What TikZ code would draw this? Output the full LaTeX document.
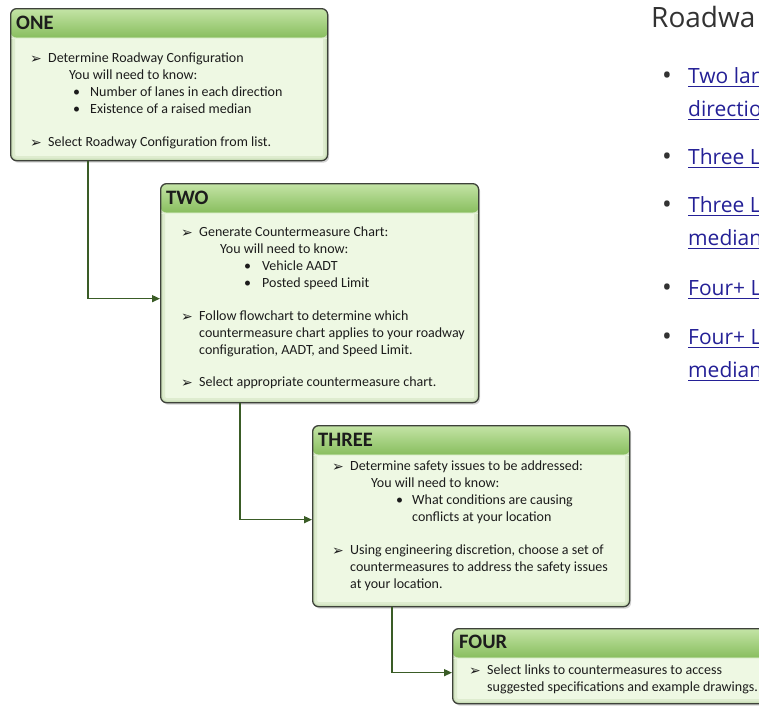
\documentclass[tikz,border=0pt]{standalone}
\usepackage{fontspec}
\usepackage{xcolor}
\setmainfont{Carlito}
\newfontfamily\symfont{DejaVu Sans}
\newfontfamily\webfont{Open Sans}
\usetikzlibrary{arrows.meta,shadows}

\definecolor{headtop}{RGB}{196,228,166}
\definecolor{headbot}{RGB}{136,190,94}
\definecolor{bodyfill}{RGB}{238,248,227}
\definecolor{bodyglow}{RGB}{150,185,120}
\definecolor{boxedge}{RGB}{62,66,58}
\definecolor{textdark}{RGB}{28,28,28}
\definecolor{linkgreen}{RGB}{58,92,38}
\definecolor{linkblue}{RGB}{36,32,150}
\definecolor{webgray}{RGB}{50,50,50}

\newcommand{\arritem}[1][18pt]{\makebox[#1][l]{\raisebox{-0.5pt}{\symfont\fontsize{14}{14}\selectfont ➢}}}
\newcommand{\bulline}[2]{\hspace*{#1}\makebox[#2][l]{•}}
\newcommand{\webbul}{\makebox[26pt][l]{\textcolor{webgray}{\fontsize{26}{26}\selectfont\raisebox{-1pt}{•}}}}
\newcommand{\weblink}[1]{\setbox0\hbox{#1}\rlap{\rule[-4pt]{\wd0}{1pt}}\box0}

\begin{document}
\begin{tikzpicture}[x=1pt, y=-1pt,
  stepbox/.style={draw=boxedge, line width=1.3pt, rounded corners=6pt,
    fill=bodyfill, anchor=north west, minimum width=317pt, inner sep=0pt,
    drop shadow={shadow xshift=1.5pt, shadow yshift=-2pt, opacity=.35},
    path picture={
      \draw[bodyglow, line width=9pt, opacity=.18, rounded corners=6pt]
        (path picture bounding box.north west) rectangle
        (path picture bounding box.south east);
      \draw[bodyglow, line width=4pt, opacity=.25, rounded corners=6pt]
        (path picture bounding box.north west) rectangle
        (path picture bounding box.south east);
      \shade[top color=headtop, bottom color=headbot]
        (path picture bounding box.north west) rectangle
        ([yshift=-29pt]path picture bounding box.north east);
      \draw[white!55!headtop, line width=1.2pt]
        ([yshift=-29.6pt]path picture bounding box.north west) --
        ([yshift=-29.6pt]path picture bounding box.north east);
    }},
  steptitle/.style={anchor=west, inner sep=0pt,
    font=\fontsize{20.5}{20.5}\selectfont\bfseries, text=textdark},
  steptext/.style={anchor=north west, inner sep=0pt, align=left,
    font=\fontsize{14}{16.8}\selectfont, text=textdark},
  link/.style={draw=linkgreen, line width=1.4pt,
    -{Triangle[length=8pt,width=7pt]}},
  webitem/.style={anchor=base west, inner sep=0pt,
    font=\webfont\fontsize{21}{21}\selectfont, text=linkblue}]

  \useasboundingbox (0,0) rectangle (759,705);
  \clip (0,0) rectangle (759,705);

  % step boxes
  \node[stepbox, minimum height=152pt] (one) at (10,8) {};
  \node[stepbox, minimum height=219pt, minimum width=318pt] (two) at (160,183) {};
  \node[stepbox, minimum height=181pt] (three) at (312,425) {};
  \node[stepbox, minimum height=75pt, minimum width=330pt] (four) at (452,628) {};

  % titles
  \node[steptitle] (one-title) at ([xshift=6pt,yshift=-14.5pt]one.north west) {ONE};
  \node[steptitle] (two-title) at ([xshift=6pt,yshift=-14.5pt]two.north west) {TWO};
  \node[steptitle] (three-title) at ([xshift=6pt,yshift=-14.5pt]three.north west) {THREE};
  \node[steptitle] (four-title) at ([xshift=7pt,yshift=-14pt]four.north west) {FOUR};

  % step texts
  \node[steptext] (one-text) at ([xshift=20pt,yshift=-45pt]one.north west) {%
    \arritem Determine Roadway Configuration\\
    \hspace*{39pt}You will need to know:\\
    \bulline{43pt}{17pt}Number of lanes in each direction\\
    \bulline{43pt}{17pt}Existence of a raised median\\[16.5pt]
    \arritem Select Roadway Configuration from list.};

  \node[steptext] (two-text) at ([xshift=21pt,yshift=-44pt]two.north west) {%
    \arritem Generate Countermeasure Chart:\\
    \hspace*{39pt}You will need to know:\\
    \bulline{63pt}{18pt}Vehicle AADT\\
    \bulline{63pt}{18pt}Posted speed Limit\\[16.5pt]
    \arritem Follow flowchart to determine which\\
    \hspace*{18pt}countermeasure chart applies to your roadway\\
    \hspace*{18pt}configuration, AADT, and Speed Limit.\\[15.5pt]
    \arritem Select appropriate countermeasure chart.};

  \node[steptext] (three-text) at ([xshift=20pt,yshift=-36pt]three.north west) {%
    \arritem Determine safety issues to be addressed:\\
    \hspace*{39pt}You will need to know:\\
    \bulline{64pt}{16pt}What conditions are causing\\
    \hspace*{80pt}conflicts at your location\\[16.5pt]
    \arritem Using engineering discretion, choose a set of\\
    \hspace*{18pt}countermeasures to address the safety issues\\
    \hspace*{18pt}at your location.};

  \node[steptext] (four-text) at ([xshift=17pt,yshift=-37pt]four.north west) {%
    \arritem Select links to countermeasures to access\\
    \hspace*{18pt}suggested specifications and example drawings.};

  % connectors
  \draw[link] ([xshift=78pt]one.south west) |- ([yshift=-5.5pt]two.west);
  \draw[link] ([xshift=80pt]two.south west) |- ([yshift=-3.5pt]three.west);
  \draw[link] ([xshift=80pt]three.south west) |- ([yshift=-6.5pt]four.west);

  % page text on the right (cut by the page edge)
  \node[anchor=base west, inner sep=0pt, text=webgray,
    font=\webfont\fontsize{28}{28}\selectfont] (roadhead) at (651,27) {Roadwa};
  \node[webitem] (link-a) at (662,83) {\webbul\weblink{Two lan}};
  \node[webitem] (link-a2) at (688,116) {\weblink{directio}};
  \node[webitem] (link-b) at (662,164) {\webbul\weblink{Three L}};
  \node[webitem] (link-c) at (662,212) {\webbul\weblink{Three L}};
  \node[webitem] (link-c2) at (688,245) {\weblink{median}};
  \node[webitem] (link-d) at (662,295) {\webbul\weblink{Four+ L}};
  \node[webitem] (link-e) at (662,344) {\webbul\weblink{Four+ L}};
  \node[webitem] (link-e2) at (688,377) {\weblink{median}};
\end{tikzpicture}
\end{document}
